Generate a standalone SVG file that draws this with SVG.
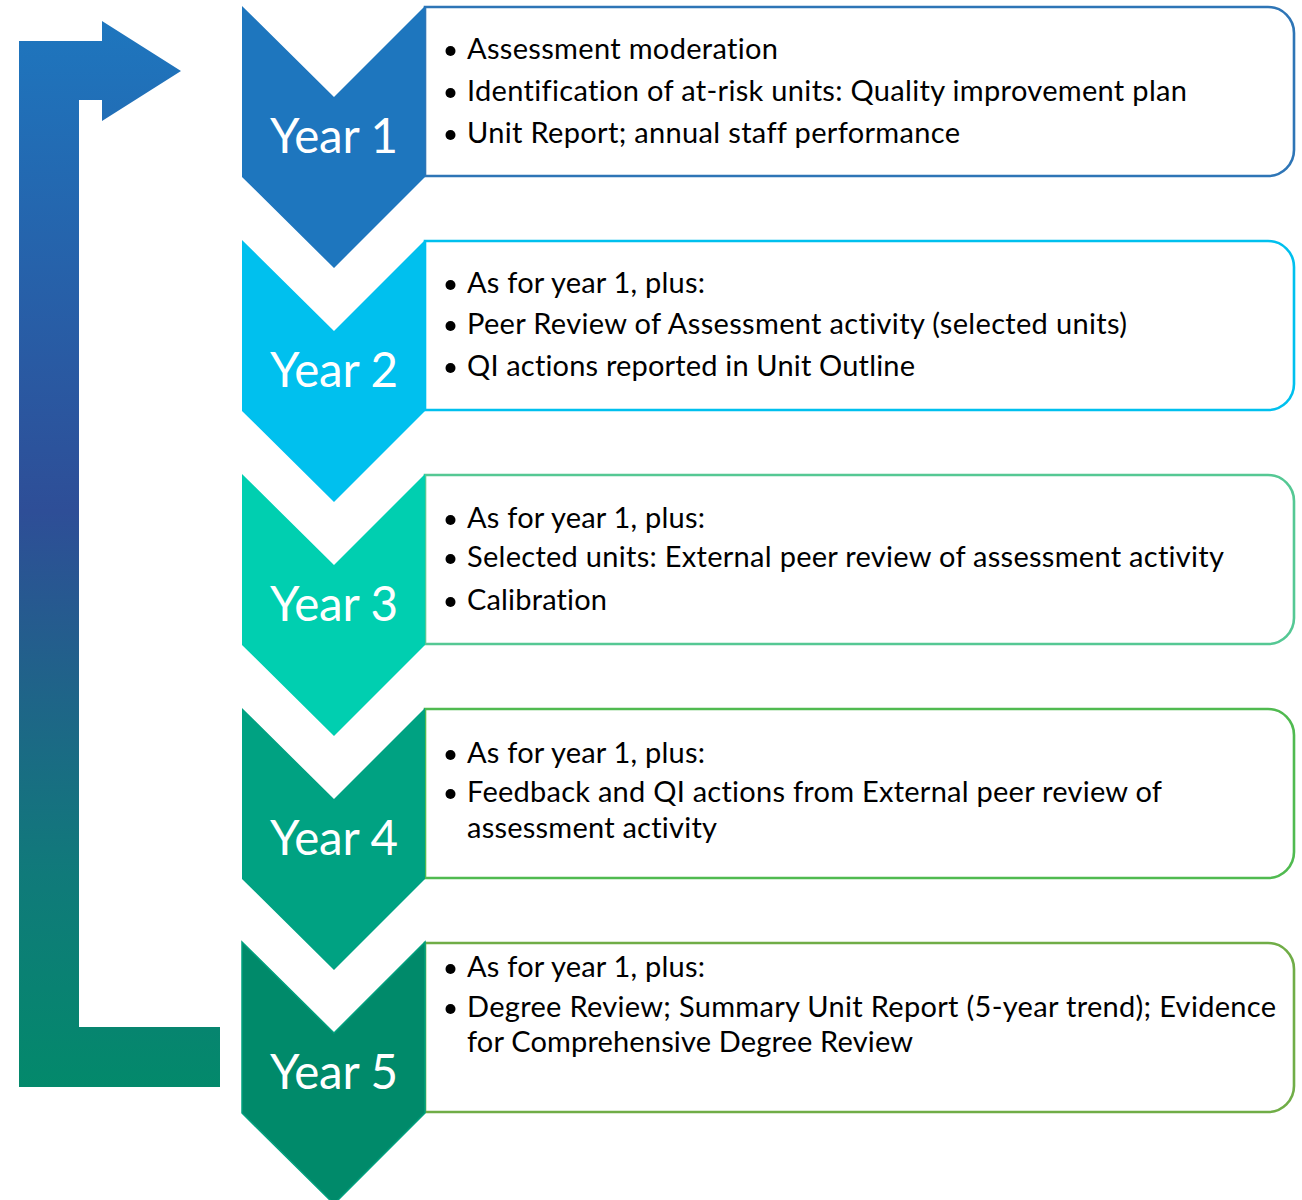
<svg xmlns="http://www.w3.org/2000/svg" width="1302" height="1200" viewBox="0 0 1302 1200">
  <defs>
    <linearGradient id="loopGrad" gradientUnits="userSpaceOnUse" x1="0" y1="21" x2="0" y2="1087">
      <stop offset="0" stop-color="#1E76BE"/>
      <stop offset="0.46" stop-color="#2E4E97"/>
      <stop offset="0.8" stop-color="#107A7A"/>
      <stop offset="1" stop-color="#03896B"/>
    </linearGradient>
    <path id="chev" d="M242,6 L334,97 L425,6 L425,177 L334,268 L242,177 Z"/>
    <path id="card" d="M425,7 H1268 A26,26 0 0 1 1294,33 V150 A26,26 0 0 1 1268,176 H425 Z"/>
  </defs>
  <style>
    text { font-variant-ligatures: none; font-feature-settings: "liga" 0, "clig" 0; }
    .card { fill: #FFFFFF; stroke-width: 2.6; }
    .year { font-family: Lato, "Open Sans", "Liberation Sans", sans-serif; font-size: 47.5px; fill: #FFFFFF; text-anchor: middle; }
    .item { font-family: Lato, "Open Sans", "Liberation Sans", sans-serif; font-size: 29px; fill: #000000; }
    .dot { fill: #000000; }
  </style>

  <!-- loop-back arrow from Year 5 to Year 1 -->
  <g id="connectors">
    <path d="M19,41 H102 V21 L181,71 L102,121 V100 H79 V1027 H220 V1087 H19 Z" fill="url(#loopGrad)"/>
  </g>

  <!-- Year 1 -->
  <g id="year1">
    <use href="#card" class="card" stroke="#2E75B6"/>
    <use href="#chev" fill="#1E76BE"/>
    <text class="year" x="334" y="153" textLength="128" lengthAdjust="spacing">Year 1</text>
    <circle class="dot" cx="450.5" cy="51" r="5"/>
    <text class="item" x="467" y="59" textLength="311" lengthAdjust="spacing">Assessment moderation</text>
    <circle class="dot" cx="450.5" cy="93" r="5"/>
    <text class="item" x="467" y="101" textLength="720" lengthAdjust="spacing">Identification of at-risk units: Quality improvement plan</text>
    <circle class="dot" cx="450.5" cy="135" r="5"/>
    <text class="item" x="467" y="143" textLength="493" lengthAdjust="spacing">Unit Report; annual staff performance</text>
  </g>

  <!-- Year 2 -->
  <g id="year2" transform="translate(0,234)">
    <use href="#card" class="card" stroke="#00C0EE"/>
    <use href="#chev" fill="#00C0EE"/>
    <text class="year" x="334" y="153" textLength="128" lengthAdjust="spacing">Year 2</text>
    <circle class="dot" cx="450.5" cy="51" r="5"/>
    <text class="item" x="467" y="59" textLength="238" lengthAdjust="spacing">As for year 1, plus:</text>
    <circle class="dot" cx="450.5" cy="92" r="5"/>
    <text class="item" x="467" y="100" textLength="660" lengthAdjust="spacing">Peer Review of Assessment activity (selected units)</text>
    <circle class="dot" cx="450.5" cy="134" r="5"/>
    <text class="item" x="467" y="142" textLength="448" lengthAdjust="spacing">QI actions reported in Unit Outline</text>
  </g>

  <!-- Year 3 -->
  <g id="year3" transform="translate(0,468)">
    <use href="#card" class="card" stroke="#55C894"/>
    <use href="#chev" fill="#00CFB0"/>
    <text class="year" x="334" y="153" textLength="128" lengthAdjust="spacing">Year 3</text>
    <circle class="dot" cx="450.5" cy="52" r="5"/>
    <text class="item" x="467" y="60" textLength="238" lengthAdjust="spacing">As for year 1, plus:</text>
    <circle class="dot" cx="450.5" cy="91" r="5"/>
    <text class="item" x="467" y="99" textLength="757" lengthAdjust="spacing">Selected units: External peer review of assessment activity</text>
    <circle class="dot" cx="450.5" cy="134" r="5"/>
    <text class="item" x="467" y="142" textLength="140" lengthAdjust="spacing">Calibration</text>
  </g>

  <!-- Year 4 -->
  <g id="year4" transform="translate(0,702)">
    <use href="#card" class="card" stroke="#50BA50"/>
    <use href="#chev" fill="#00A282"/>
    <text class="year" x="334" y="153" textLength="128" lengthAdjust="spacing">Year 4</text>
    <circle class="dot" cx="450.5" cy="53" r="5"/>
    <text class="item" x="467" y="61" textLength="238" lengthAdjust="spacing">As for year 1, plus:</text>
    <circle class="dot" cx="450.5" cy="92" r="5"/>
    <text class="item" x="467" y="100" textLength="695" lengthAdjust="spacing">Feedback and QI actions from External peer review of</text>
    <text class="item" x="467" y="136" textLength="250" lengthAdjust="spacing">assessment activity</text>
  </g>

  <!-- Year 5 -->
  <g id="year5" transform="translate(0,936)">
    <use href="#card" class="card" stroke="#70AD47"/>
    <use href="#chev" fill="#008A6A" stroke="#00A07E" stroke-width="1.5"/>
    <text class="year" x="334" y="153" textLength="128" lengthAdjust="spacing">Year 5</text>
    <circle class="dot" cx="450.5" cy="33" r="5"/>
    <text class="item" x="467" y="41" textLength="238" lengthAdjust="spacing">As for year 1, plus:</text>
    <circle class="dot" cx="450.5" cy="73" r="5"/>
    <text class="item" x="467" y="81" textLength="809" lengthAdjust="spacing">Degree Review; Summary Unit Report (5-year trend); Evidence</text>
    <text class="item" x="467" y="116" textLength="446" lengthAdjust="spacing">for Comprehensive Degree Review</text>
  </g>
</svg>
